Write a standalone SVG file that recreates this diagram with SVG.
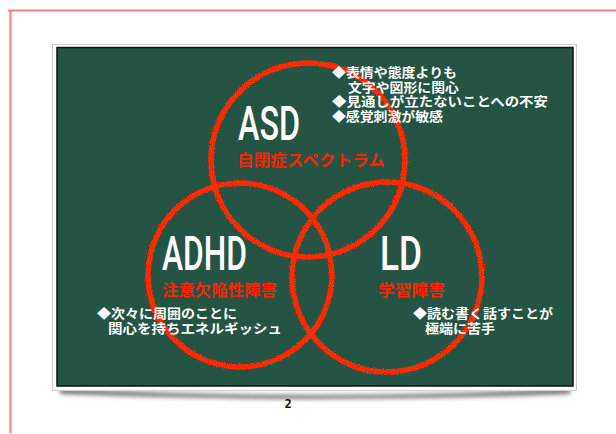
<svg xmlns="http://www.w3.org/2000/svg" width="616" height="434" viewBox="0 0 616 434">
<defs>
<style>
.chalk{fill:none;stroke:#ff2a00;stroke-width:5.5;}
.big{font-family:Roboto,"Liberation Sans",sans-serif;font-weight:500;fill:#ffffff;font-size:48px;}
.sub{font-family:"Noto Sans CJK JP",sans-serif;font-weight:700;fill:#ff2200;font-size:16px;}
.desc{font-family:"Noto Sans CJK JP",sans-serif;font-weight:700;fill:#ffffff;font-size:13px;}
</style>
<filter id="rough" x="-10%" y="-10%" width="120%" height="120%">
<feTurbulence type="fractalNoise" baseFrequency="0.9" numOctaves="2" seed="3" result="n"/>
<feDisplacementMap in="SourceGraphic" in2="n" scale="3.5" xChannelSelector="R" yChannelSelector="G"/>
</filter>
<filter id="blur" x="-10%" y="-50%" width="120%" height="200%">
<feGaussianBlur stdDeviation="2"/>
</filter>
</defs>
<rect width="616" height="434" fill="#ffffff"/>
<path d="M8 10.5H616M10.5 10V433" stroke="#ff8080" stroke-width="2.2" fill="none"/>
<g id="board">
<path d="M60 388 Q315 402 570 388 L570 394 Q315 404 60 394Z" fill="#777" filter="url(#blur)"/>
<rect x="52.5" y="44.5" width="524" height="346" fill="#ffffff" stroke="#cfcfcf" stroke-width="1"/>
<rect x="57" y="47.5" width="516" height="338.5" fill="#255344" stroke="#111" stroke-width="1.5"/>
</g>
<g id="connectors"></g>
<g id="asd">
<circle class="chalk" cx="308" cy="160" r="97" filter="url(#rough)"/>
<text><tspan class="big" x="238" y="140" textLength="62" lengthAdjust="spacingAndGlyphs">ASD</tspan><tspan class="sub" x="237" y="166" textLength="148" lengthAdjust="spacingAndGlyphs">自閉症スペクトラム</tspan></text>
</g>
<g id="adhd">
<circle class="chalk" cx="240" cy="275" r="92" filter="url(#rough)"/>
<text><tspan class="big" x="162" y="270" textLength="85" lengthAdjust="spacingAndGlyphs">ADHD</tspan><tspan class="sub" x="162" y="296" textLength="115" lengthAdjust="spacingAndGlyphs">注意欠陥性障害</tspan></text>
</g>
<g id="ld">
<circle class="chalk" cx="387" cy="277" r="95" filter="url(#rough)"/>
<text><tspan class="big" x="380" y="270" textLength="42" lengthAdjust="spacingAndGlyphs">LD</tspan><tspan class="sub" x="378" y="296" textLength="67" lengthAdjust="spacingAndGlyphs">学習障害</tspan></text>
</g>
<g id="asd-notes">
<text class="desc"><tspan x="332" y="77" textLength="125" lengthAdjust="spacingAndGlyphs">◆表情や態度よりも</tspan><tspan x="348" y="91.5" textLength="111" lengthAdjust="spacingAndGlyphs">文字や図形に関心</tspan><tspan x="332" y="106" textLength="216" lengthAdjust="spacingAndGlyphs">◆見通しが立たないことへの不安</tspan><tspan x="332" y="120.5" textLength="111" lengthAdjust="spacingAndGlyphs">◆感覚刺激が敏感</tspan></text>
</g>
<g id="adhd-notes">
<text class="desc"><tspan x="97" y="318" textLength="140" lengthAdjust="spacingAndGlyphs">◆次々に周囲のことに</tspan><tspan x="108" y="332.5" textLength="174" lengthAdjust="spacingAndGlyphs">関心を持ちエネルギッシュ</tspan></text>
</g>
<g id="ld-notes">
<text class="desc"><tspan x="413" y="318" textLength="140" lengthAdjust="spacingAndGlyphs">◆読む書く話すことが</tspan><tspan x="425" y="332.5" textLength="70" lengthAdjust="spacingAndGlyphs">極端に苦手</tspan></text>
</g>
<text x="288" y="408" font-family="'DejaVu Sans Mono',monospace" font-weight="700" font-size="12" fill="#111" text-anchor="middle">2</text>
</svg>
